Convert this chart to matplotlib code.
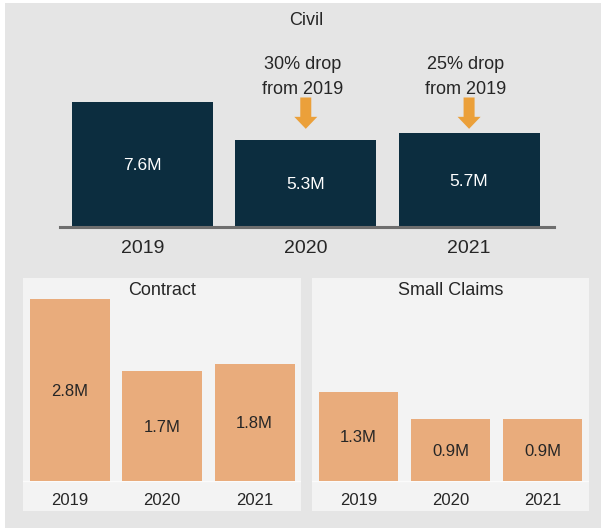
import matplotlib
matplotlib.use("Agg")
import matplotlib.pyplot as plt
from matplotlib.patches import Rectangle, FancyArrow

plt.rcParams["font.family"] = ["Liberation Sans", "DejaVu Sans"]

# ---- data -------------------------------------------------------------
years = ["2019", "2020", "2021"]
civil = [7.6, 5.3, 5.7]
civil_labels = ["7.6M", "5.3M", "5.7M"]
contract = [2.8, 1.7, 1.8]
contract_labels = ["2.8M", "1.7M", "1.8M"]
small_claims = [1.3, 0.9, 0.9]
small_claims_labels = ["1.3M", "0.9M", "0.9M"]
drop_notes = {1: ["30% drop", "from 2019"], 2: ["25% drop", "from 2019"]}

# ---- styling ----------------------------------------------------------
W, H = 601, 529
BG = "#e5e5e5"
PANEL = "#f3f3f3"
NAVY = "#0c2d3f"
PEACH = "#e9ac7c"
ARROW = "#eba03a"
TEXT = "#262626"
AXIS = "#6e6e6e"
NUDGE = 2.5  # px: 'center' alignment sits digits slightly high

fig = plt.figure(figsize=(W / 100, H / 100), dpi=100)
fig.patch.set_facecolor("white")


def px_rect(left, top, right, bottom):
    """Figure-fraction rectangle from pixel edges (origin top-left)."""
    return [left / W, 1 - bottom / H, (right - left) / W, (bottom - top) / H]


# grey backdrop, kept behind every axes
fig.patches.append(Rectangle((5 / W, 1 - 528 / H), (W - 5) / W, (528 - 3) / H,
                             transform=fig.transFigure, facecolor=BG,
                             edgecolor="none", zorder=-10))

# ---- Civil (top) ------------------------------------------------------
ax = fig.add_axes(px_rect(60, 30, 554, 227))
ax.patch.set_visible(False)
ppu_y = 197 / 11.94  # pixels per million
ax.set_ylim(0, 11.94)
ax.set_xlim(-0.505, 2.52)
x = range(len(years))
ax.bar(x, civil, width=0.864, color=NAVY, zorder=1)
for s in ["top", "left", "right"]:
    ax.spines[s].set_visible(False)
ax.spines["bottom"].set_color(AXIS)
ax.spines["bottom"].set_linewidth(2.2)
ax.spines["bottom"].set_zorder(3)
ax.set_xticks([])
ax.set_yticks([])
for i, (v, lab) in enumerate(zip(civil, civil_labels)):
    ax.text(i, v / 2 - 1.5 / ppu_y, lab, ha="center", va="center",
            color="white", fontsize=12.5)
    ax.text(i, -(19 + NUDGE) / ppu_y, years[i], ha="center", va="center",
            color=TEXT, fontsize=14, clip_on=False)
ax.text(1.0, (227 - 18.5 - NUDGE) / ppu_y, "Civil", ha="center", va="center",
        color=TEXT, fontsize=13, clip_on=False)

for i, lines in drop_notes.items():
    ax.text(i - 0.02, (227 - 62 - NUDGE) / ppu_y, lines[0], ha="center",
            va="center", color=TEXT, fontsize=13)
    ax.text(i - 0.02, (227 - 86.5 - NUDGE) / ppu_y, lines[1], ha="center",
            va="center", color=TEXT, fontsize=13)
    top, tip = 7.85, 5.95
    ax.add_patch(FancyArrow(i, top, 0, tip - top, width=11 / 163.25,
                            head_width=23 / 163.25, head_length=12 / ppu_y,
                            length_includes_head=True, color=ARROW,
                            linewidth=0, zorder=2))


# ---- bottom panels ----------------------------------------------------
def panel(rect_px, values, labels, title, ppu, centre0, step, width_px):
    left, top, right, bottom = rect_px
    base = 481
    a = fig.add_axes(px_rect(left, top, right, bottom))
    a.set_facecolor(PANEL)
    a.set_ylim(-(bottom - base) / ppu, (base - top) / ppu)
    a.set_xlim((left - centre0) / step, (right - centre0) / step)
    a.bar(range(len(values)), values, width=width_px / step, color=PEACH,
          zorder=2)
    a.axhline(0, color="#fbfbfb", lw=0.9, zorder=1)
    for s in a.spines.values():
        s.set_visible(False)
    a.set_xticks([])
    a.set_yticks([])
    for i, (v, lab) in enumerate(zip(values, labels)):
        a.text(i, v / 2 - 1.5 / ppu, lab, ha="center", va="center",
               color=TEXT, fontsize=12, zorder=3)
        a.text(i, -(498 + NUDGE - base) / ppu, years[i], ha="center",
               va="center", color=TEXT, fontsize=12)
    a.text(1.0, (base - 288 - NUDGE) / ppu, title, ha="center", va="center",
           color=TEXT, fontsize=13)
    return a


panel((23, 277.5, 301, 511), contract, contract_labels, "Contract",
      65.0, 70.0, 92.25, 80)
panel((312, 277.5, 589, 511), small_claims, small_claims_labels,
      "Small Claims", 68.5, 358.5, 92.0, 79)

fig.savefig("out.png", dpi=100, facecolor=fig.get_facecolor())
